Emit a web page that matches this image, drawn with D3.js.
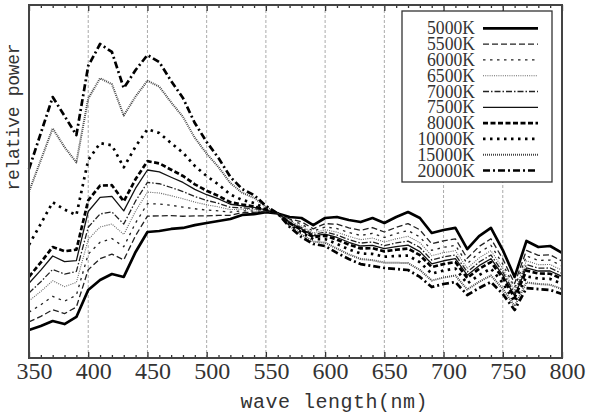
<!DOCTYPE html>
<html>
<head>
<meta charset="utf-8">
<script src="https://cdn.jsdelivr.net/npm/d3@7"></script>
<style>
  body { margin: 0; background: #fff; }
</style>
</head>
<body>
<div id="chart"></div>
<script>
// wavelength samples (nm)
const wavelength = [350, 360, 370, 380, 390, 400, 410, 420, 430, 440, 450, 460, 470, 480, 490,
  500, 510, 520, 530, 540, 550, 560, 570, 580, 590, 600, 610, 620, 630, 640, 650, 660, 670,
  680, 690, 700, 710, 720, 730, 740, 750, 760, 770, 780, 790, 800];

// relative power, 100 at 560 nm
const k5000 = [19.4, 22.1, 25.6, 23.5, 28.4, 47.1, 54.0, 58.1, 56.1, 73.4, 87.2, 87.9, 89.3, 90.0, 92.0,
  93.4, 94.8, 96.2, 99.0, 99.6, 101.0, 100, 97.6, 96.9, 92.0, 96.9, 97.6, 95.5, 94.1, 96.9, 93.4, 97.6, 101.0,
  96.9, 86.5, 88.6, 90.0, 75.4, 84.4, 90.0, 74.7, 56.1, 81.0, 76.8, 77.5, 72.7];
const k5500 = [25.0, 28.8, 33.4, 30.7, 35.3, 61.1, 68.7, 71.9, 67.9, 84.7, 98.2, 98.4, 98.5, 98.1, 98.4,
  98.4, 98.7, 98.8, 100.6, 100.8, 101.4, 100, 96.2, 94.3, 89.4, 93.0, 92.6, 90.1, 88.3, 90.3, 87.2, 90.4, 93.0,
  88.7, 79.0, 81.1, 82.5, 69.0, 77.2, 82.5, 68.6, 51.5, 74.5, 71.0, 71.4, 67.0];
const k6000 = [31.7, 36.8, 42.7, 39.3, 43.5, 71.9, 80.1, 82.7, 77.0, 93.5, 106.8, 106.6, 105.7, 104.4, 103.3,
  102.4, 101.8, 100.9, 101.9, 101.7, 101.7, 100, 95.4, 92.7, 87.8, 90.7, 89.6, 86.9, 84.8, 86.3, 83.4, 86.1, 88.2,
  83.8, 74.5, 76.6, 78.0, 65.2, 72.9, 78.0, 65.0, 48.8, 70.6, 67.5, 67.8, 63.6];
const k6500 = [39.5, 46.1, 53.5, 49.4, 52.3, 82.0, 90.7, 92.7, 85.5, 101.7, 114.8, 114.2, 112.3, 110.2, 107.9,
  106.0, 104.6, 102.7, 103.0, 102.6, 101.9, 100, 94.7, 91.4, 86.5, 88.8, 87.1, 84.2, 81.9, 83.0, 80.3, 82.5, 84.2,
  79.8, 70.8, 72.9, 74.3, 62.0, 69.3, 74.3, 61.9, 46.5, 67.3, 64.6, 64.7, 60.8];
const k7000 = [45.0, 52.8, 61.3, 58.1, 59.9, 90.5, 99.7, 101.1, 92.7, 108.7, 121.5, 120.6, 118.0, 115.2, 111.8,
  109.1, 107.0, 104.3, 104.0, 103.3, 102.2, 100, 94.1, 90.3, 85.4, 87.2, 85.1, 82.0, 79.5, 80.3, 77.8, 79.6, 80.9,
  76.5, 67.8, 69.9, 71.3, 59.5, 66.4, 71.3, 59.5, 44.6, 64.7, 62.2, 62.3, 58.5];
const k7500 = [51.7, 60.8, 70.6, 66.7, 67.4, 101.4, 111.2, 111.9, 101.8, 117.5, 130.1, 128.8, 125.1, 121.5, 116.7,
  113.0, 110.1, 106.4, 105.3, 104.2, 102.5, 100, 93.7, 89.4, 84.5, 85.8, 83.4, 80.1, 77.5, 78.0, 75.7, 77.1, 78.1,
  73.6, 65.2, 67.3, 68.7, 57.3, 63.9, 68.7, 57.4, 43.0, 62.4, 60.2, 60.2, 56.5];
const k8000 = [56.2, 66.2, 76.8, 73.9, 75.0, 109.1, 119.3, 119.6, 108.4, 123.8, 136.2, 134.7, 130.3, 126.0, 120.2,
  115.8, 112.2, 107.8, 106.2, 104.9, 102.7, 100, 93.3, 88.6, 83.7, 84.7, 81.9, 78.5, 75.8, 76.0, 73.8, 74.9, 75.7,
  71.2, 62.9, 65.0, 66.4, 55.4, 61.7, 66.4, 55.5, 41.7, 60.5, 58.5, 58.3, 54.8];
const k10000 = [78.4, 92.9, 107.8, 102.7, 98.9, 137.0, 148.7, 147.2, 131.9, 146.4, 158.3, 155.7, 148.7, 142.1, 132.9,
  125.9, 120.1, 113.1, 109.4, 107.3, 103.4, 100, 92.4, 87.0, 82.2, 82.3, 78.9, 75.2, 72.3, 72.0, 70.1, 70.6, 70.9,
  66.3, 58.4, 60.5, 61.9, 51.5, 57.4, 61.9, 51.9, 38.9, 56.5, 55.0, 54.7, 51.4];
const k15000 = [115.2, 137.0, 158.9, 145.9, 135.4, 179.6, 193.6, 189.5, 167.8, 181.0, 191.9, 187.8, 176.9, 166.9, 152.4,
  141.4, 132.1, 121.1, 114.3, 110.9, 104.6, 100, 91.5, 85.3, 80.5, 79.8, 75.7, 71.7, 68.5, 67.7, 66.0, 65.9, 65.7,
  61.0, 53.6, 55.7, 57.1, 47.4, 52.7, 57.1, 47.9, 35.9, 52.3, 51.2, 50.7, 47.7];
const k20000 = [130.8, 155.7, 180.6, 167.5, 154.3, 202.1, 217.3, 211.8, 186.8, 199.3, 209.7, 204.8, 191.7, 179.9, 162.6,
  149.5, 138.4, 125.3, 116.9, 112.8, 105.2, 100, 90.7, 83.7, 78.9, 77.5, 72.7, 68.5, 65.0, 63.7, 62.3, 61.6, 60.9,
  56.1, 49.1, 51.2, 52.6, 43.6, 48.4, 52.6, 44.3, 33.2, 48.4, 47.7, 47.1, 44.3];

const seriesNames = ["5000K", "5500K", "6000K", "6500K", "7000K", "7500K", "8000K", "10000K", "15000K", "20000K"];
const seriesValues = [k5000, k5500, k6000, k6500, k7000, k7500, k8000, k10000, k15000, k20000];

const xMajorTicks = [350, 400, 450, 500, 550, 600, 650, 700, 750, 800];
const xMinorTicks = [360, 370, 380, 390, 410, 420, 430, 440, 460, 470, 480, 490, 510, 520, 530, 540,
  560, 570, 580, 590, 610, 620, 630, 640, 660, 670, 680, 690, 710, 720, 730, 740, 760, 770, 780, 790];
const gridTicks = [400, 450, 500, 550, 600, 650, 700, 750];

// line look per series
const lineStyles = [
  { w: 2.7, dash: null, c: "#000" },
  { w: 1.3, dash: "6,3", c: "#222" },
  { w: 1.3, dash: "2.5,4.5", c: "#222" },
  { w: 1.1, dash: "1,1.2", c: "#666" },
  { w: 1.3, dash: "6,2,1.5,2", c: "#222" },
  { w: 1.3, dash: null, c: "#111" },
  { w: 2.7, dash: "5,2.5", c: "#000" },
  { w: 2.7, dash: "2.5,4.5", c: "#000" },
  { w: 2.0, dash: "1,1", c: "#444" },
  { w: 2.7, dash: "7,3,2,3", c: "#000" }
];

const width = 589;
const height = 414;
const margin = { top: 5, right: 27, bottom: 56, left: 29 };

const x = d3.scaleLinear()
  .domain([350, 800])
  .range([margin.left, width - margin.right]);

const y = d3.scaleLinear()
  .domain([0, 244.3])
  .range([height - margin.bottom, margin.top]);

const svg = d3.select("#chart")
  .append("svg")
  .attr("width", width)
  .attr("height", height);

// vertical grid
svg.append("g")
  .selectAll("line")
  .data(gridTicks)
  .join("line")
  .attr("x1", d => x(d))
  .attr("x2", d => x(d))
  .attr("y1", margin.top)
  .attr("y2", height - margin.bottom)
  .attr("stroke", "#aaa")
  .attr("stroke-width", 1)
  .attr("stroke-dasharray", "3,2");

// curves
const line = d3.line()
  .x((d, i) => x(wavelength[i]))
  .y(d => y(d));

svg.append("g")
  .selectAll("path")
  .data(seriesValues)
  .join("path")
  .attr("d", d => line(d))
  .attr("fill", "none")
  .attr("stroke", (d, i) => lineStyles[i].c)
  .attr("stroke-width", (d, i) => lineStyles[i].w)
  .attr("stroke-dasharray", (d, i) => lineStyles[i].dash)
  .attr("stroke-linejoin", "round");

// ticks, pointing inward
const tickFont = "'Liberation Serif', 'DejaVu Serif', serif";

svg.append("g")
  .attr("transform", `translate(0,${height - margin.bottom})`)
  .call(d3.axisBottom(x).tickValues(xMinorTicks).tickSize(-3).tickFormat(""))
  .call(g => g.select(".domain").remove())
  .call(g => g.selectAll("line").attr("stroke", "#333").attr("stroke-width", 1.3));

svg.append("g")
  .attr("transform", `translate(0,${height - margin.bottom})`)
  .call(d3.axisBottom(x).tickValues(xMajorTicks).tickSize(-6).tickFormat(d3.format("d")))
  .call(g => g.select(".domain").remove())
  .call(g => g.selectAll("line").attr("stroke", "#333").attr("stroke-width", 1.3))
  .call(g => g.selectAll("text")
    .attr("y", 21)
    .attr("dy", null)
    .attr("x", 5)
    .attr("fill", "#333")
    .style("font-family", tickFont)
    .style("font-size", "24px"));

svg.append("g")
  .attr("transform", `translate(0,${margin.top})`)
  .call(d3.axisTop(x).tickValues(xMinorTicks).tickSize(-3).tickFormat(""))
  .call(g => g.select(".domain").remove())
  .call(g => g.selectAll("line").attr("stroke", "#333").attr("stroke-width", 1.3));

svg.append("g")
  .attr("transform", `translate(0,${margin.top})`)
  .call(d3.axisTop(x).tickValues(xMajorTicks).tickSize(-6).tickFormat(""))
  .call(g => g.select(".domain").remove())
  .call(g => g.selectAll("line").attr("stroke", "#333").attr("stroke-width", 1.3));

// frame
svg.append("rect")
  .attr("x", margin.left)
  .attr("y", margin.top)
  .attr("width", width - margin.left - margin.right)
  .attr("height", height - margin.top - margin.bottom)
  .attr("fill", "none")
  .attr("stroke", "#444")
  .attr("stroke-width", 2);

// axis titles
svg.append("text")
  .attr("x", 334)
  .attr("y", 408)
  .attr("text-anchor", "middle")
  .attr("textLength", 187)
  .attr("lengthAdjust", "spacing")
  .attr("fill", "#333")
  .style("font-family", "'Liberation Mono', 'DejaVu Sans Mono', monospace")
  .style("font-size", "20px")
  .text("wave length(nm)");

svg.append("text")
  .attr("transform", "rotate(-90)")
  .attr("x", -117)
  .attr("y", 19)
  .attr("text-anchor", "middle")
  .attr("textLength", 147)
  .attr("lengthAdjust", "spacing")
  .attr("fill", "#333")
  .style("font-family", "'Liberation Mono', 'DejaVu Sans Mono', monospace")
  .style("font-size", "18px")
  .text("relative power");

// legend
const legend = svg.append("g");

legend.append("rect")
  .attr("x", 402)
  .attr("y", 11)
  .attr("width", 150)
  .attr("height", 171)
  .attr("fill", "#fff")
  .attr("stroke", "#333")
  .attr("stroke-width", 1.3);

const rowY = i => 28.3 + i * 15.8;

legend.selectAll("text")
  .data(seriesNames)
  .join("text")
  .attr("x", 475)
  .attr("y", (d, i) => rowY(i) + 6)
  .attr("text-anchor", "end")
  .attr("textLength", d => d.length * 9.6)
  .attr("lengthAdjust", "spacingAndGlyphs")
  .attr("fill", "#333")
  .style("font-family", tickFont)
  .style("font-size", "18px")
  .text(d => d);

legend.selectAll("line")
  .data(seriesNames)
  .join("line")
  .attr("x1", 483)
  .attr("x2", 538)
  .attr("y1", (d, i) => rowY(i))
  .attr("y2", (d, i) => rowY(i))
  .attr("stroke", (d, i) => lineStyles[i].c)
  .attr("stroke-width", (d, i) => lineStyles[i].w)
  .attr("stroke-dasharray", (d, i) => lineStyles[i].dash);
</script>
</body>
</html>
